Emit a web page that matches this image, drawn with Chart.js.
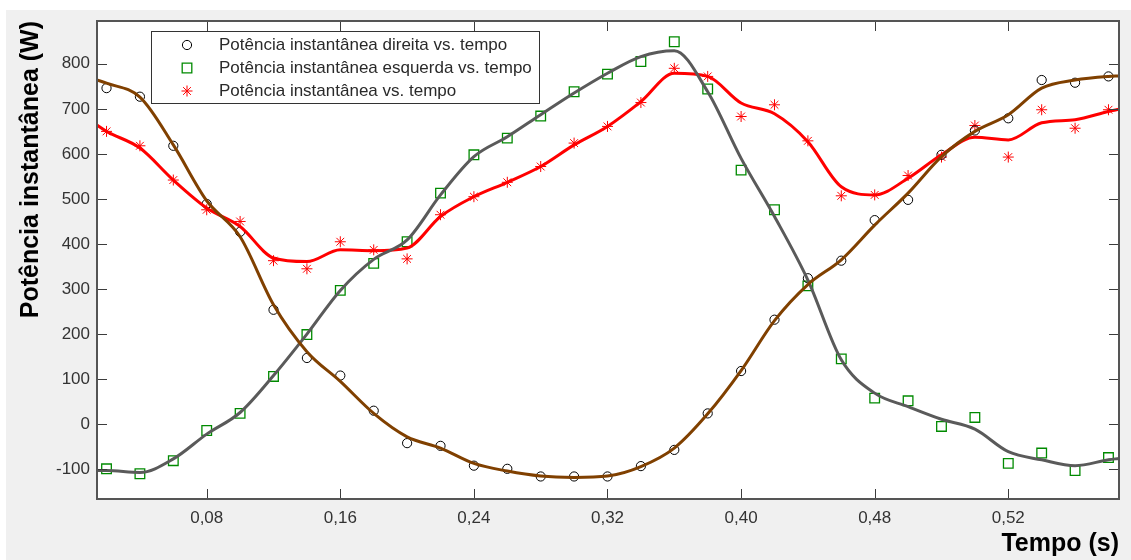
<!DOCTYPE html>
<html lang="pt">
<head>
<meta charset="UTF-8" />
<title>Potência instantânea vs. tempo</title>
<script src="https://cdn.jsdelivr.net/npm/chart.js@4"></script>
<style>
  * { margin: 0; padding: 0; box-sizing: border-box; }
  body { background: #fff; width: 1131px; height: 560px; overflow: hidden; }
  .chart-container { position: relative; width: 1131px; height: 560px; }
</style>
</head>
<body>
<div class="chart-container">
  <canvas id="powerChart" width="1131" height="560"></canvas>
</div>
<script>
// sample times (s) of the measured points
const times = [0.02, 0.04, 0.06, 0.08, 0.10, 0.12, 0.14, 0.16, 0.18, 0.20,
               0.22, 0.24, 0.26, 0.28, 0.30, 0.32, 0.34, 0.36, 0.38, 0.40,
               0.42, 0.44, 0.46, 0.48, 0.50, 0.52, 0.54, 0.56, 0.58, 0.60, 0.62];

// measured values (W)
const rightPower = [746, 727, 618, 489, 427, 254, 147, 108, 30, -42,
                    -48, -92, -99, -116, -116, -116, -93, -57, 24, 118,
                    232, 324, 363, 453, 498, 598, 652, 679, 764, 758, 772];
const leftPower = [-99, -110, -81, -14, 24, 106, 199, 297, 357, 405,
                   513, 598, 635, 684, 738, 777, 805, 849, 744, 564,
                   476, 307, 145, 58, 52, -5, 15, -87, -64, -103, -74];
const totalPower = [650, 618, 542, 476, 450, 363, 345, 405, 387, 367,
                    465, 505, 537, 572, 624, 661, 714, 790, 772, 683,
                    709, 629, 507, 509, 552, 593, 663, 593, 698, 657, 698];

// smoothed fits, same times plus the two axis ends
const fitTimes = [0.0143, ...times, 0.6263];
const rightFit = [764, 757, 726, 620, 496, 416, 265, 161, 95, 24, -28,
                  -53, -87, -104, -115, -118, -115, -94, -53, 23, 119,
                  230, 310, 365, 442, 513, 594, 650, 687, 746, 764, 772, 773];
const leftFit = [-103, -103, -107, -77, -22, 26, 108, 200, 297, 366, 409,
                 509, 594, 638, 687, 735, 779, 816, 829, 738, 590,
                 461, 320, 143, 69, 39, 11, -11, -61, -79, -92, -79, -76];
const totalFit = [664, 650, 613, 542, 480, 439, 369, 361, 387, 385, 391,
                  461, 505, 537, 572, 620, 661, 716, 779, 772, 713,
                  689, 627, 527, 509, 546, 598, 637, 631, 669, 676, 694, 699];

// axis ticks (labels as printed on the original figure)
const xTickValues = [0.08, 0.16, 0.24, 0.32, 0.40, 0.48, 0.56];
const xTickLabels = ["0,08", "0,16", "0,24", "0,32", "0,40", "0,48", "0,52"];
const yTickValues = [-100, 0, 100, 200, 300, 400, 500, 600, 700, 800];

const seriesLabels = [
    "Potência instantânea direita vs. tempo",
    "Potência instantânea esquerda vs. tempo",
    "Potência instantânea vs. tempo",
];

const toPoints = (xs, ys) => xs.map((x, i) => ({ x: x, y: ys[i] }));
const FONT = "'Liberation Sans', Arial, sans-serif";

const markerStyles = [
    { pointStyle: "circle", radius: 4.6, borderColor: "#000", backgroundColor: "rgba(0,0,0,0)", borderWidth: 1 },
    { pointStyle: "rect", radius: 6.8, borderColor: "#008a00", backgroundColor: "rgba(0,0,0,0)", borderWidth: 1.3 },
    { pointStyle: "star", radius: 5.5, borderColor: "#ff0000", backgroundColor: "#ff0000", borderWidth: 1 },
];

function markerDataset(label, values, style) {
    return {
        label: label,
        data: toPoints(times, values),
        showLine: false,
        pointStyle: style.pointStyle,
        pointRadius: style.radius,
        pointBorderColor: style.borderColor,
        pointBackgroundColor: style.backgroundColor,
        pointBorderWidth: style.borderWidth,
        order: 2,
    };
}

function fitDataset(values, color) {
    return {
        label: "",
        data: toPoints(fitTimes, values),
        showLine: true,
        borderColor: color,
        borderWidth: 3,
        pointRadius: 0,
        cubicInterpolationMode: "monotone",
        fill: false,
        order: 1,
    };
}

// legend marker, same shapes as the plotted points
function drawMarker(ctx, s, x, y) {
    ctx.strokeStyle = s.borderColor;
    ctx.lineWidth = s.borderWidth;
    ctx.beginPath();
    if (s.pointStyle === "circle") {
        ctx.arc(x, y, s.radius, 0, Math.PI * 2);
    } else if (s.pointStyle === "rect") {
        const h = s.radius * Math.SQRT1_2;
        ctx.rect(x - h, y - h, 2 * h, 2 * h);
    } else {
        const r = s.radius, d = r * Math.SQRT1_2;
        ctx.moveTo(x - r, y); ctx.lineTo(x + r, y);
        ctx.moveTo(x, y - r); ctx.lineTo(x, y + r);
        ctx.moveTo(x - d, y - d); ctx.lineTo(x + d, y + d);
        ctx.moveTo(x - d, y + d); ctx.lineTo(x + d, y - d);
    }
    ctx.stroke();
}

// figure background, frame with inward ticks, and legend inside the axes
const matlabLook = {
    id: "matlabLook",
    beforeDraw(chart) {
        const ctx = chart.ctx;
        const a = chart.chartArea;
        ctx.save();
        ctx.fillStyle = "#fff";
        ctx.fillRect(0, 0, chart.width, chart.height);
        ctx.fillStyle = "#f0f0f0";
        ctx.fillRect(6, 10, chart.width - 6, chart.height - 10);
        ctx.fillStyle = "#fff";
        ctx.fillRect(a.left, a.top, a.right - a.left, a.bottom - a.top);
        ctx.restore();
    },
    afterDatasetsDraw(chart) {
        const ctx = chart.ctx;
        const a = chart.chartArea;
        const xs = chart.scales.x;
        const ys = chart.scales.y;
        const len = 10;
        ctx.save();
        ctx.strokeStyle = "#3c3c3c";
        ctx.lineWidth = 1;
        ctx.beginPath();
        xTickValues.forEach(v => {
            const px = Math.round(xs.getPixelForValue(v)) + 0.5;
            ctx.moveTo(px, a.bottom); ctx.lineTo(px, a.bottom - len);
            ctx.moveTo(px, a.top); ctx.lineTo(px, a.top + len);
        });
        yTickValues.forEach(v => {
            const py = Math.round(ys.getPixelForValue(v)) + 0.5;
            ctx.moveTo(a.left, py); ctx.lineTo(a.left + len, py);
            ctx.moveTo(a.right, py); ctx.lineTo(a.right - len, py);
        });
        ctx.stroke();
        ctx.strokeStyle = "#555";
        ctx.lineWidth = 2;
        ctx.strokeRect(a.left, a.top, a.right - a.left, a.bottom - a.top);

        // legend box
        const box = { x: 151, y: 31, w: 388, h: 72 };
        ctx.fillStyle = "#fff";
        ctx.fillRect(box.x, box.y, box.w, box.h);
        ctx.strokeStyle = "#333";
        ctx.lineWidth = 1;
        ctx.strokeRect(box.x + 0.5, box.y + 0.5, box.w, box.h);
        ctx.font = "17px " + FONT;
        ctx.textBaseline = "middle";
        ctx.textAlign = "left";
        seriesLabels.forEach((label, i) => {
            const y = box.y + 14 + i * 23;
            drawMarker(ctx, markerStyles[i], 187, y);
            ctx.fillStyle = "#2a2a2a";
            ctx.fillText(label, 219, y);
        });
        ctx.restore();
    },
};

const ctx = document.getElementById("powerChart").getContext("2d");
const powerChart = new Chart(ctx, {
    type: "scatter",
    data: {
        datasets: [
            markerDataset(seriesLabels[0], rightPower, markerStyles[0]),
            markerDataset(seriesLabels[1], leftPower, markerStyles[1]),
            markerDataset(seriesLabels[2], totalPower, markerStyles[2]),
            fitDataset(rightFit, "#804000"),
            fitDataset(leftFit, "#5a5a5a"),
            fitDataset(totalFit, "#ff0000"),
        ],
    },
    options: {
        responsive: false,
        devicePixelRatio: 1,
        animation: false,
        layout: { padding: { left: 0, top: 21, right: 12, bottom: 0 } },
        plugins: {
            legend: { display: false },
            tooltip: { enabled: false },
        },
        scales: {
            x: {
                type: "linear",
                min: 0.0143,
                max: 0.6263,
                grid: { display: false, drawTicks: false },
                border: { display: false },
                afterFit: (scale) => { scale.height = 61; },
                afterBuildTicks: (scale) => {
                    scale.ticks = xTickValues.map(v => ({ value: v }));
                },
                ticks: {
                    padding: 9,
                    color: "#333",
                    font: { size: 17, family: FONT },
                    maxRotation: 0,
                    callback: (value, index) => xTickLabels[index],
                },
                title: {
                    display: true,
                    text: "Tempo (s)",
                    align: "end",
                    color: "#000",
                    font: { size: 25, weight: "bold", family: FONT },
                    padding: { top: 0, bottom: 1 },
                },
            },
            y: {
                type: "linear",
                min: -166,
                max: 895,
                grid: { display: false, drawTicks: false },
                border: { display: false },
                afterFit: (scale) => { scale.width = 97; },
                afterBuildTicks: (scale) => {
                    scale.ticks = yTickValues.map(v => ({ value: v }));
                },
                ticks: {
                    padding: 7,
                    color: "#333",
                    font: { size: 17, family: FONT },
                },
                title: {
                    display: true,
                    text: "Potência instantânea (W)",
                    align: "end",
                    color: "#000",
                    font: { size: 25, weight: "bold", family: FONT },
                    padding: { top: 16, bottom: 0 },
                },
            },
        },
    },
    plugins: [matlabLook],
});
</script>
</body>
</html>
